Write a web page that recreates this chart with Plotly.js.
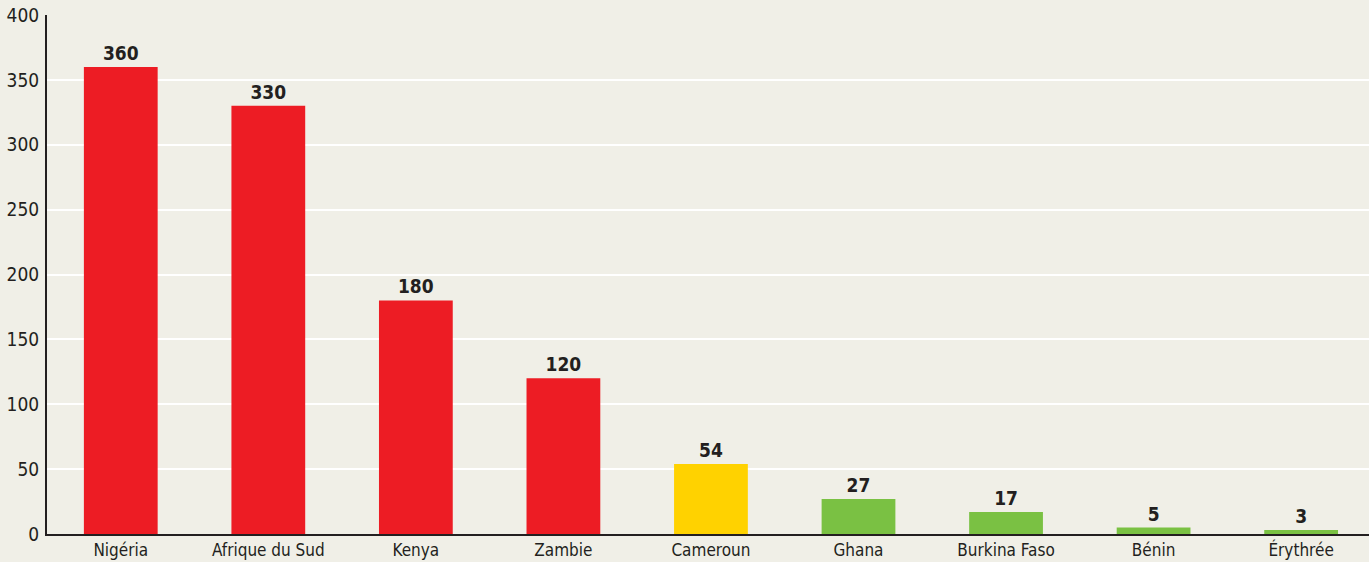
<!DOCTYPE html>
<html><head><meta charset="utf-8">
<script src="https://cdn.plot.ly/plotly-3.0.1.min.js"></script>
<style>html,body{margin:0;padding:0;background:#f0efe7;}#chart{width:1369px;height:562px;}</style>
</head><body><div id="chart"></div>
<script>
const countries = ["Nigéria","Afrique du Sud","Kenya","Zambie","Cameroun","Ghana","Burkina Faso","Bénin","Érythrée"];
const values = [360,330,180,120,54,27,17,5,3];
const barColors = ["#ed1c24","#ed1c24","#ed1c24","#ed1c24","#ffd200","#7ac143","#7ac143","#7ac143","#7ac143"];
const yTicks = [0,50,100,150,200,250,300,350,400];

const FONT = '"Liberation Sans Narrow", "DejaVu Sans Condensed", "Roboto Condensed", sans-serif';
const trace = {
  type: 'bar', x: countries, y: values,
  marker: {color: barColors},
  text: values.map(String), textposition: 'outside',
  textfont: {family: FONT, size: 19, color: '#231f20', weight: 'bold'},
  cliponaxis: false, hoverinfo: 'none'
};
const layout = {
  width: 1369, height: 562,
  margin: {l: 47, r: 0, t: 15, b: 28},
  paper_bgcolor: '#f0efe7', plot_bgcolor: '#f0efe7',
  bargap: 0.5, showlegend: false,
  font: {family: FONT, size: 19, color: '#231f20'},
  xaxis: {range: [-0.5, 8.46], showline: true, linecolor: '#231f20', linewidth: 2,
          tickfont: {family: FONT, size: 17, color: '#231f20'}, showgrid: false, fixedrange: true},
  yaxis: {range: [0, 400], tickvals: yTicks, showline: true, linecolor: '#231f20', linewidth: 2,
          gridcolor: '#ffffff', gridwidth: 2, zeroline: false, ticklabelstandoff: 2,
          tickfont: {family: FONT, size: 19, color: '#231f20'}, fixedrange: true}
};
Plotly.newPlot('chart', [trace], layout, {displayModeBar: false, staticPlot: true});
</script></body></html>
